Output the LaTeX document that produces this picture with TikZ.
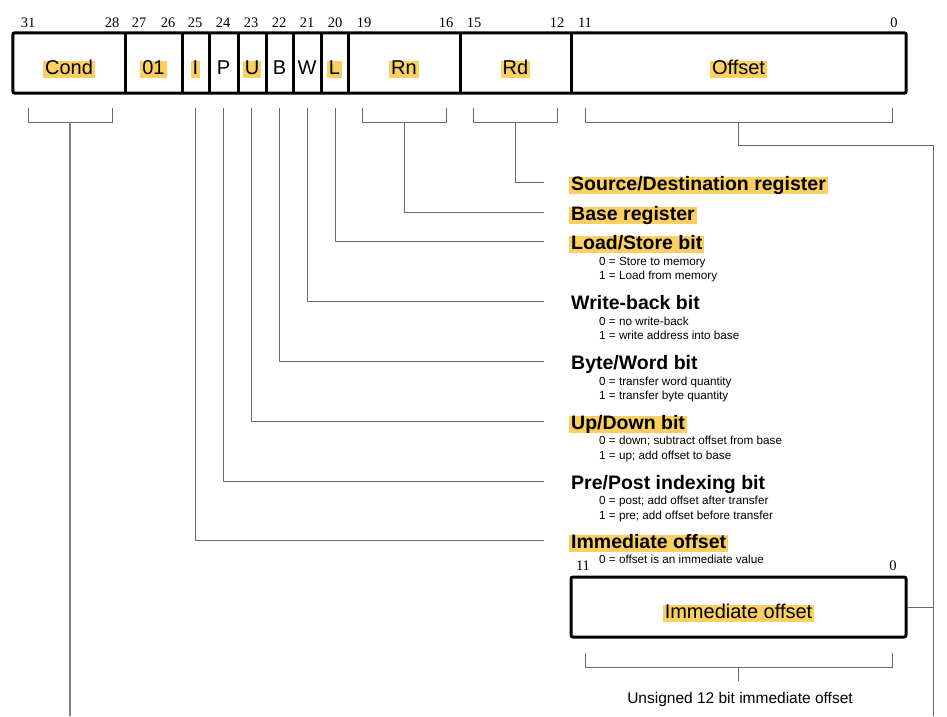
\documentclass[tikz,border=0pt]{standalone}
\usepackage{fontspec}
\setmainfont{Liberation Sans}
\newfontfamily\numfont{Liberation Serif}
\definecolor{hlc}{RGB}{252,208,96}
\definecolor{lnc}{RGB}{105,105,105}
\begin{document}
\begin{tikzpicture}[x=1pt,y=-1pt,
  hl/.style={fill=hlc, inner xsep=2pt, inner ysep=0pt, text height=13pt, text depth=4pt},
  nohl/.style={inner xsep=2pt, inner ysep=0pt, text height=13pt, text depth=4pt},
  fldtxt/.style={font=\fontsize{20}{24}\selectfont, anchor=base},
  fieldbox/.style={inner sep=0pt, minimum height=60pt},
  ttl/.style={font=\bfseries\fontsize{19.5}{23}\selectfont, anchor=base west},
  subt/.style={font=\fontsize{11.7}{13}\selectfont, anchor=base west, inner sep=0pt},
  bitn/.style={font=\numfont\fontsize{14.5}{16}\selectfont, anchor=base, inner sep=0pt},
  conn/.style={draw=lnc, line width=1pt},
  frame/.style={line width=3pt, rounded corners=2pt}]
\useasboundingbox (0,0) rectangle (947,716);

% fields
\node[fieldbox, minimum width=112pt] (fCond) at (69,63) {};
\node[fieldbox, minimum width=57pt] (f01) at (153.5,63) {};
\node[fieldbox, minimum width=27pt] (fI) at (195.5,63) {};
\node[fieldbox, minimum width=29pt] (fP) at (223.5,63) {};
\node[fieldbox, minimum width=28pt] (fU) at (252,63) {};
\node[fieldbox, minimum width=27pt] (fB) at (279.5,63) {};
\node[fieldbox, minimum width=28pt] (fW) at (307,63) {};
\node[fieldbox, minimum width=27pt] (fL) at (334.5,63) {};
\node[fieldbox, minimum width=112pt] (fRn) at (404,63) {};
\node[fieldbox, minimum width=111pt] (fRd) at (515.5,63) {};
\node[fieldbox, minimum width=335pt] (fOff) at (738.5,63) {};
\draw[frame] (fCond.north west) rectangle (fOff.south east);
\foreach \f in {fCond,f01,fI,fP,fU,fB,fW,fL,fRn,fRd}
  \draw[line width=3pt] (\f.north east) -- (\f.south east);

% field labels
\node[hl, fldtxt] at ([yshift=-11pt]fCond.center) {Cond};
\node[hl, fldtxt] at ([yshift=-11pt]f01.center) {01};
\node[hl, fldtxt] at ([yshift=-11pt]fI.center) {I};
\node[nohl, fldtxt] at ([yshift=-11pt]fP.center) {P};
\node[hl, fldtxt] at ([yshift=-11pt]fU.center) {U};
\node[nohl, fldtxt] at ([yshift=-11pt]fB.center) {B};
\node[nohl, fldtxt] at ([yshift=-11pt]fW.center) {W};
\node[hl, fldtxt] at ([yshift=-11pt]fL.center) {L};
\node[hl, fldtxt] at ([yshift=-11pt]fRn.center) {Rn};
\node[hl, fldtxt] at ([yshift=-11pt]fRd.center) {Rd};
\node[hl, fldtxt] at ([yshift=-11pt]fOff.center) {Offset};

% bit numbers
\foreach \x/\n in {28/31,112/28,139/27,168/26,195/25,223/24,251/23,279/22,307/21,335/20,364/19,446/16,474/15,557/12,585/11,894/0}
  \node[bitn] at (\x,27) {\n};

% brackets
\draw[conn] (28,108) |- (112,122) -- (112,108);
\draw[conn] (362,108) |- (446,122) -- (446,108);
\draw[conn] (473,108) |- (557,122) -- (557,108);
\draw[conn] (585,108) |- (892,122) -- (892,108);
\coordinate (bCond) at (70,122);
\coordinate (bRn) at (404,122);
\coordinate (bRd) at (515,122);
\coordinate (bOff) at (738,122);
\coordinate (bL) at (335,108);
\coordinate (bW) at (307,108);
\coordinate (bB) at (279,108);
\coordinate (bU) at (251,108);
\coordinate (bP) at (223,108);
\coordinate (bI) at (195,108);

% titles
\node[ttl, hl] (tSrc) at (569,190) {Source/Destination register};
\node[ttl, hl] (tBase) at (569,220) {Base register};
\node[ttl, hl] (tLS) at (569,249) {Load/Store bit};
\node[ttl, nohl] (tWB) at (569,309) {Write-back bit};
\node[ttl, nohl] (tBW) at (569,369) {Byte/Word bit};
\node[ttl, hl] (tUD) at (569,429) {Up/Down bit};
\node[ttl, nohl] (tPP) at (569,489) {Pre/Post indexing bit};
\node[ttl, hl] (tImm) at (569,548) {Immediate offset};

\node[subt] at (599,265) {0 = Store to memory};
\node[subt] at (599,279) {1 = Load from memory};
\node[subt] at (599,325) {0 = no write-back};
\node[subt] at (599,339) {1 = write address into base};
\node[subt] at (599,385) {0 = transfer word quantity};
\node[subt] at (599,399) {1 = transfer byte quantity};
\node[subt] at (599,444) {0 = down; subtract offset from base};
\node[subt] at (599,459) {1 = up; add offset to base};
\node[subt] at (599,504) {0 = post; add offset after transfer};
\node[subt] at (599,519) {1 = pre; add offset before transfer};
\node[subt] at (599,563) {0 = offset is an immediate value};

% connector ends
\coordinate (eRd) at (544,182);
\coordinate (eRn) at (544,212);
\coordinate (eL) at (544,241);
\coordinate (eW) at (544,301);
\coordinate (eB) at (544,361);
\coordinate (eU) at (544,421);
\coordinate (eP) at (544,481);
\coordinate (eI) at (544,540);
\coordinate (cR) at (933,145);
\coordinate (endR) at (933,716);
\coordinate (endCond) at (70,716);

\draw[conn] (bRd) |- (eRd);
\draw[conn] (bRn) |- (eRn);
\draw[conn] (bL) |- (eL);
\draw[conn] (bW) |- (eW);
\draw[conn] (bB) |- (eB);
\draw[conn] (bU) |- (eU);
\draw[conn] (bP) |- (eP);
\draw[conn] (bI) |- (eI);
\draw[conn] (bOff) |- (cR) -- (endR);
\draw[conn, line width=1.5pt, draw=gray] (bCond) -- (endCond);

% immediate offset box
\node[bitn] at (583,570) {11};
\node[bitn] at (893,570) {0};
\node[fieldbox, minimum width=335pt, draw, frame] (fImm) at (738.5,607) {};
\node[hl, fldtxt] at ([yshift=-11pt]fImm.center) {Immediate offset};
\draw[conn] (fImm.east) -- (fImm.east -| endR);
\draw[conn] (585,653) |- (892,667) -- (892,653);
\coordinate (bImm) at (738,667);
\node[font=\fontsize{15.5}{18}\selectfont, anchor=base, inner sep=0pt] (uLab) at (740,703) {Unsigned 12 bit immediate offset};
\draw[conn] (bImm) -- ([yshift=-14pt]bImm);
\end{tikzpicture}
\end{document}
